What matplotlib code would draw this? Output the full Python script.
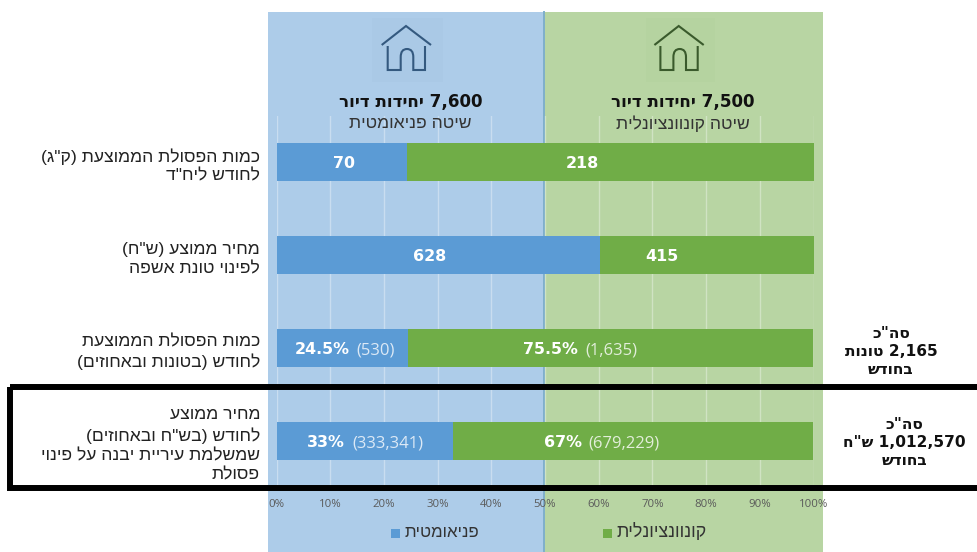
import re
import matplotlib
matplotlib.use("Agg")
import matplotlib.pyplot as plt
from matplotlib.patches import Rectangle, PathPatch
from matplotlib.path import Path

# ---------- data ----------
categories = [
    'כמות הפסולת הממוצעת (ק"ג)\nלחודש ליח"ד',
    'מחיר ממוצע (ש"ח)\nלפינוי טונת אשפה',
    'כמות הפסולת הממוצעת\nלחודש (בטונות ובאחוזים)',
    'מחיר ממוצע\nלחודש (בש"ח ובאחוזים)\nשמשלמת עיריית יבנה על פינוי\nפסולת',
]
pneumatic = [70, 628, 530, 333341]
conventional = [218, 415, 1635, 679229]
pneu_bold = ['70', '628', '24.5%', '33%']
pneu_reg = ['', '', '(530)', '(333,341)']
conv_bold = ['218', '415', '75.5%', '67%']
conv_reg = ['', '', '(1,635)', '(679,229)']
ticks = list(range(0, 101, 10))
tick_labels = [f'{t}%' for t in ticks]
series_names = ['פניאומטית', 'קונוונציונלית']
head_bold = ['7,600 יחידות דיור', '7,500 יחידות דיור']
head_reg = ['שיטה פניאומטית', 'שיטה קונוונציונלית']
totals = ['סה"כ\n2,165 טונות\nבחודש', 'סה"כ\n1,012,570 ש"ח\nבחודש']

# ---------- style ----------
W, H = 977, 552
BLUE, GREEN = '#5B9BD5', '#70AD47'
BLUE_BG, GREEN_BG = '#ADCCE9', '#B8D5A3'
SANS = 'Liberation Sans'
BOLD = 'DejaVu Sans'
LATIN = 'Open Sans'
plt.rcParams['font.family'] = [SANS, 'DejaVu Sans']


def vis(text):
    """Logical Hebrew to visual order, line by line (matplotlib draws left to right)."""
    out = []
    swap = {'(': ')', ')': '('}
    for line in text.split('\n'):
        rev = ''.join(swap.get(c, c) for c in reversed(line))
        rev = re.sub(r'[0-9][0-9,.]*[0-9]', lambda m: m.group(0)[::-1], rev)
        out.append(rev)
    return '\n'.join(out)


fig = plt.figure(figsize=(W / 100, H / 100), dpi=100, facecolor='white')


def px_axes(z):
    a = fig.add_axes([0, 0, 1, 1], zorder=z)
    a.set_xlim(0, W)
    a.set_ylim(H, 0)
    a.axis('off')
    return a


# background panels
bg = px_axes(0)
bg.add_patch(Rectangle((268, 12), 276, 540, fc=BLUE_BG, ec='none'))
bg.add_patch(Rectangle((544, 12), 278.5, 540, fc=GREEN_BG, ec='none'))
bg.plot([544, 544], [12, 552], color='#7FAFCB', lw=1.4)
bg.add_patch(Rectangle((372, 18), 71, 64, fc='#AAC9E6', ec='none'))
bg.add_patch(Rectangle((645.5, 18), 69, 64, fc='#B5D3A0', ec='none'))


def house(a, dx, color):
    verts = [(381.7, 45), (406, 26), (431, 45),
             (387.7, 46), (387.7, 70), (400.7, 70), (400.7, 57),
             (400.7, 49), (407, 49), (413.3, 49), (413.3, 57),
             (413.3, 70), (425, 70), (425, 46)]
    codes = [Path.MOVETO, Path.LINETO, Path.LINETO,
             Path.MOVETO, Path.LINETO, Path.LINETO, Path.LINETO,
             Path.CURVE3, Path.CURVE3, Path.CURVE3, Path.CURVE3,
             Path.LINETO, Path.LINETO, Path.LINETO]
    verts = [(x + dx, y) for x, y in verts]
    a.add_patch(PathPatch(Path(verts, codes), fc='none', ec=color, lw=1.5))


house(bg, 0, '#34597F')
house(bg, 272.7, '#3A5A2C')

# main chart
ax = fig.add_axes([276.7 / W, 1 - 487.8 / H, (813.5 - 276.7) / W, 372 / H], zorder=1)
ax.patch.set_alpha(0)
totals_row = [p + c for p, c in zip(pneumatic, conventional)]
p_share = [100 * p / t for p, t in zip(pneumatic, totals_row)]
c_share = [100 * c / t for c, t in zip(conventional, totals_row)]
y = list(range(len(categories)))
ax.barh(y, p_share, height=0.405, color=BLUE, zorder=3)
ax.barh(y, c_share, left=p_share, height=0.405, color=GREEN, zorder=3)
ax.set_xlim(0, 100)
ax.set_ylim(len(categories) - 0.5, -0.5)
ax.set_xticks(ticks, tick_labels, fontsize=8.2, color='#5A5A5A', family=LATIN)
ax.set_yticks(y, [vis(c) for c in categories], fontsize=12.6, color='#222222',
              ha='right', multialignment='right', linespacing=1.36)
ax.tick_params(axis='both', length=0)
ax.tick_params(axis='x', pad=8)
ax.tick_params(axis='y', pad=12)
ax.grid(axis='x', color='white', alpha=0.35, lw=1, zorder=1)
ax.set_axisbelow(True)
for s in ax.spines.values():
    s.set_visible(False)

# bar labels: bold part ends at the anchor, the plain part starts after it
pneu_anchor = [12.5, 28.4, 14.2, 13.4]
conv_anchor = [56.9, 71.8, 56.8, 57.5]
for i in y:
    for b, r, xa, col in ((pneu_bold[i], pneu_reg[i], pneu_anchor[i], '#DCE9F6'),
                          (conv_bold[i], conv_reg[i], conv_anchor[i], '#E2EEDA')):
        if r:
            ax.annotate(b, (xa, i), xytext=(-2.5, 0), textcoords='offset points',
                        ha='right', va='center_baseline', color='white', fontweight='bold',
                        family=BOLD, fontsize=11.4, zorder=4)
            ax.annotate(r, (xa, i), xytext=(2.5, 0), textcoords='offset points',
                        ha='left', va='center_baseline', color=col,
                        family=LATIN, fontsize=12, zorder=4)
        else:
            ax.text(xa, i, b, ha='center', va='center_baseline', color='white',
                    fontweight='bold', family=BOLD, fontsize=11.4, zorder=4)

# front layer: texts in pixel positions and the highlight box
fr = px_axes(2)
for cx, b, r in zip((410.5, 682.5), head_bold, head_reg):
    fr.text(cx, 102, vis(b), ha='center', va='center', fontweight='bold',
            family=BOLD, fontsize=12.1, color='#111111')
    fr.text(cx, 124, vis(r), ha='center', va='center', fontsize=12.6, color='#333333')

fr.add_patch(Rectangle((9.7, 387), 1000, 100.5, fc='none', ec='black', lw=4.3, clip_on=True))

for cx, cy, t in zip((891, 904), (351.5, 442.5), totals):
    fr.text(cx, cy, vis(t), ha='center', va='center', multialignment='center',
            fontweight='bold', family=BOLD, fontsize=11.1, color='#111111', linespacing=1.25)

# legend
fr.add_patch(Rectangle((391, 529), 9, 8.5, fc=BLUE, ec='none'))
fr.add_patch(Rectangle((603, 529), 9, 8.5, fc=GREEN, ec='none'))
fr.text(405, 532.5, vis(series_names[0]), ha='left', va='center', fontsize=12.2, color='#333333')
fr.text(616, 532.5, vis(series_names[1]), ha='left', va='center', fontsize=12.8, color='#333333')

fig.savefig('out.png', dpi=100)
